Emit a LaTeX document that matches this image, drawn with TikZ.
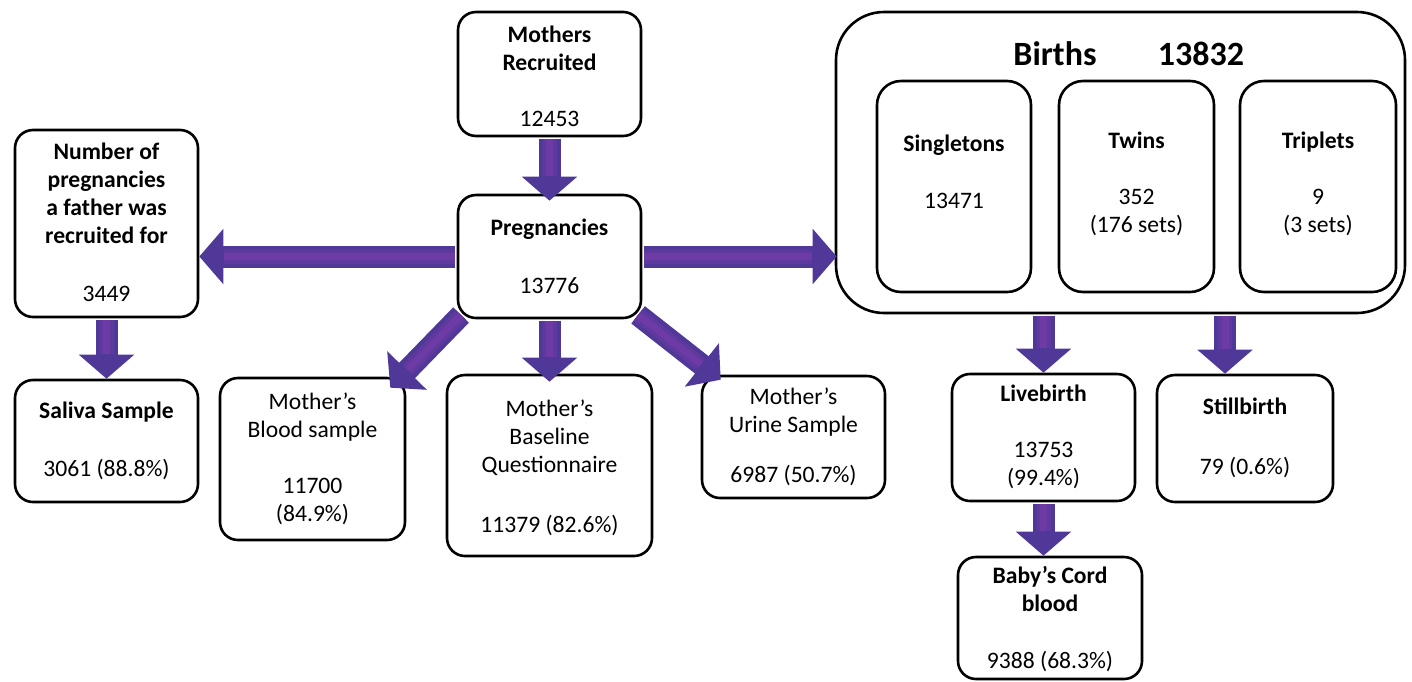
\documentclass[tikz,border=0pt]{standalone}
\usepackage{fontspec}
\setmainfont{Carlito}
\usetikzlibrary{arrows.meta,calc}
\definecolor{arrowedge}{RGB}{80,56,152}
\definecolor{arrowmid}{RGB}{94,57,158}
\definecolor{arrowcore}{RGB}{110,58,165}
\begin{document}
\begin{tikzpicture}[x=0.5pt,y=-0.5pt,
  box/.style={draw=black,line width=1.3pt,rounded corners=9pt,fill=white,inner sep=0pt},
  bigbox/.style={box,rounded corners=24pt},
  subbox/.style={box,rounded corners=12pt},
  lbl/.style={align=center,inner sep=0pt,font=\fontsize{11.8}{14}\selectfont},
  title/.style={inner sep=0pt,font=\fontsize{17}{20}\selectfont\bfseries},
  flow/.style={draw=arrowedge,line width=11pt,
    -{Triangle[width=27pt,length=12pt]},shorten <=0.7pt,
    postaction={draw=arrowmid,line width=7pt,-,shorten >=12.5pt},
    postaction={draw=arrowcore,line width=3.5pt,-,shorten >=12.5pt}},
]
\useasboundingbox (0,0) rectangle (1412,681);
\fill[white] (0,0) rectangle (1412,681);

% boxes
\node[box,minimum width=91.5pt,minimum height=62pt]   (mr)    at (549.5,74)    {};
\node[box,minimum width=91.5pt,minimum height=61.5pt] (preg)  at (549.5,256.5) {};
\node[box,minimum width=91.5pt,minimum height=93.5pt] (fath)  at (106.5,223.5) {};
\node[box,minimum width=91.5pt,minimum height=61pt]   (sal)   at (106.5,441)   {};
\node[box,minimum width=92.5pt,minimum height=81pt]   (blood) at (312.5,459)   {};
\node[box,minimum width=102.5pt,minimum height=90.5pt](base)  at (549.5,465.5) {};
\node[box,minimum width=91.5pt,minimum height=61pt]   (urine) at (793.5,437)   {};
\node[bigbox,minimum width=284.5pt,minimum height=150.5pt] (births) at (1120.5,162.5) {};
\node[subbox,minimum width=77pt,minimum height=105.5pt]   (sing)  at (954,186.5)    {};
\node[subbox,minimum width=77.5pt,minimum height=105.5pt] (twins) at (1136.5,186.5) {};
\node[subbox,minimum width=78pt,minimum height=105.5pt]   (trip)  at (1318,186.5)   {};
\node[box,minimum width=91.5pt,minimum height=63.5pt] (live)  at (1043.5,437.5) {};
\node[box,minimum width=88pt,minimum height=63.5pt]   (still) at (1245,438.5)   {};
\node[box,minimum width=92pt,minimum height=61pt]     (baby)  at (1050,618)     {};

% texts
\node[lbl] (mrT) at (549.5,76.5) {\textbf{Mothers}\\\textbf{Recruited}\\[14pt]12453};
\node[lbl] (pregT) at (549.5,256) {\textbf{Pregnancies}\\[15pt]13776};
\node[lbl] (fathT) at (106.5,222) {\textbf{Number of}\\\textbf{pregnancies}\\\textbf{a father was}\\\textbf{recruited for}\\[15pt]3449};
\node[lbl] (salT) at (106.5,441) {\textbf{Saliva Sample}\\[15pt]3061 (88.8\%)};
\node[lbl] (bloodT) at (312.5,459) {Mother’s\\Blood sample\\[14pt]11700\\(84.9\%)};
\node[lbl] (baseT) at (549.5,468) {Mother’s\\Baseline\\Questionnaire\\[16pt]11379 (82.6\%)};
\node[lbl] (urineT) at (793.5,436.5) {Mother’s\\Urine Sample\\[11pt]6987 (50.7\%)};
\node[title] (birthsT) at (1055,54) {Births};
\node[title] (birthsN) at (1201,54) {13832};
\node[lbl] (singT) at (954,171.5) {\textbf{Singletons}\\[14.5pt]13471};
\node[lbl] (twinsT) at (1136.5,183.5) {\textbf{Twins}\\[14pt]352\\(176 sets)};
\node[lbl] (tripT) at (1318,183.5) {\textbf{Triplets}\\[14pt]9\\(3 sets)};
\node[lbl] (liveT) at (1043.5,437) {\textbf{Livebirth}\\[14pt]13753\\(99.4\%)};
\node[lbl] (stillT) at (1245,438) {\textbf{Stillbirth}\\[16pt]79 (0.6\%)};
\node[lbl] (babyT) at (1050,619.5) {\textbf{Baby’s Cord}\\\textbf{blood}\\[14.5pt]9388 (68.3\%)};

% flow arrows
\draw[flow] (mr.south) -- ($(preg.north)+(0,7)$);
\draw[flow] (preg.west) -- (preg.west -| fath.east);
\draw[flow] (preg.east) -- ($(preg.east -| births.west)+(2,0)$);
\draw[flow] (preg.south) -- ($(base.north)+(0,8)$);
\draw[flow] ($(preg.south west)+(5.3,-5.3)$) -- ($(blood.north east)+(-16,11)$);
\draw[flow] ($(preg.south east)+(-5.3,-5.3)$) -- ($(urine.north west)+(20,5)$);
\draw[flow] (fath.south) -- (sal.north);
\draw[flow] (births.south -| live.north) -- (live.north);
\draw[flow] ($(births.south -| still.north)+(-20,0)$) -- ($(still.north)+(-20,0)$);
\draw[flow] (live.south) -- (baby.north -| live.south);
\end{tikzpicture}
\end{document}
